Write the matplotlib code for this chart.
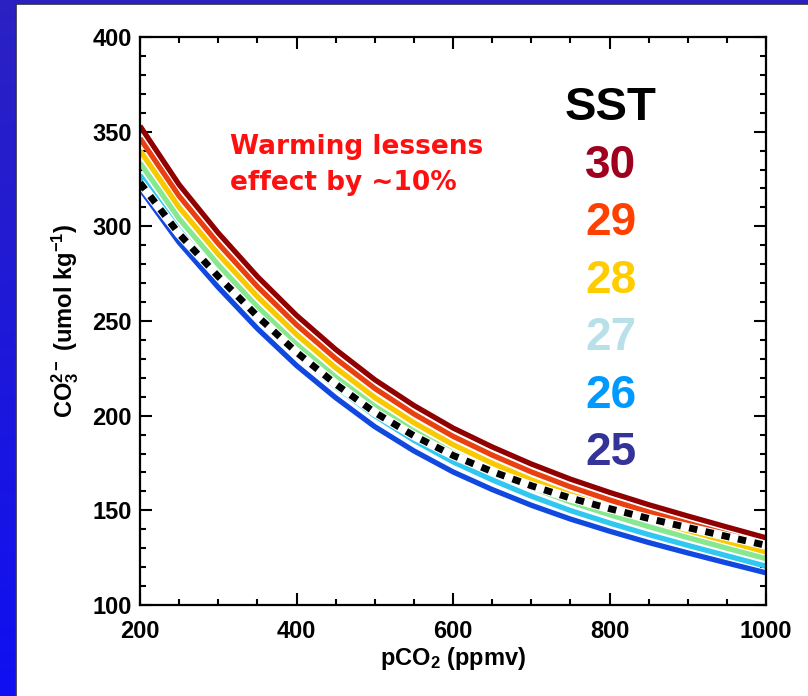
import numpy as np
import matplotlib
matplotlib.use("Agg")
import matplotlib.pyplot as plt
from matplotlib.patches import Rectangle
from matplotlib.ticker import MultipleLocator

plt.rcParams['font.family'] = ['Liberation Sans', 'DejaVu Sans']
plt.rcParams['mathtext.fontset'] = 'custom'
plt.rcParams['mathtext.rm'] = 'Liberation Sans:bold'
plt.rcParams['mathtext.it'] = 'Liberation Sans:bold:italic'
plt.rcParams['mathtext.bf'] = 'Liberation Sans:bold'

# pCO2 (ppmv)
pco2 = [200, 250, 300, 350, 400, 450, 500, 550, 600, 650, 700, 750, 800, 850, 900, 950, 1000]

# CO3 2- (umol/kg) for each SST
sst30 = [353, 322, 296.5, 273.5, 253, 235, 219, 205.4, 193.5, 183.5, 174.5, 166.5, 159.5, 153, 147, 141.2, 135.5]
sst29 = [346.5, 316, 290.9, 268.2, 248, 230.2, 214.4, 200.9, 189.1, 179.2, 170.3, 162.4, 155.5, 149.1, 143.2, 137.5, 131.8]
sst28 = [340, 310, 285.3, 262.9, 242.9, 225.3, 209.6, 196.3, 184.7, 174.9, 166.1, 158.3, 151.5, 145.2, 139.3, 133.6, 128]
sst27 = [333.5, 304, 279.7, 257.5, 237.7, 220.4, 205, 191.9, 180.4, 170.8, 162.1, 154.4, 147.7, 141.4, 135.6, 130, 124.5]
sst26 = [327, 298, 274.1, 252.2, 232.6, 215.4, 200, 187, 175.6, 166.1, 157.5, 149.9, 143.3, 137.2, 131.5, 126, 120.5]
sst25 = [320, 291.5, 267.8, 246, 226.5, 209.5, 194.2, 181.4, 170.3, 161, 152.7, 145.4, 139, 133, 127.5, 122.2, 117]
ref = [323, 296, 273.5, 252.5, 233.5, 216.7, 201.7, 189.4, 179, 170.5, 163, 156.5, 150.9, 145.7, 140.9, 136.2, 131.5]

line_colors = ['#1048e0', '#30c8f0', '#88e890', '#f8c800', '#e84010', '#900000']
series = [sst25, sst26, sst27, sst28, sst29, sst30]

sst_labels = ['30', '29', '28', '27', '26', '25']
label_colors = ['#a00020', '#ff4000', '#ffcc00', '#b8e0e8', '#0099ff', '#333399']

fig = plt.figure(figsize=(8.08, 6.96), dpi=100)

# slide background: blue frame on the left and top
bg = fig.add_axes([0, 0, 1, 1], zorder=-10)
grad = np.linspace(0, 1, 256)[:, None, None]
top_c = np.array([0.17, 0.13, 0.76])
bot_c = np.array([0.06, 0.06, 0.95])
img = top_c * (1 - grad) + bot_c * grad
bg.imshow(img, extent=[0, 1, 0, 1], aspect='auto')
bx, by = 16 / 808, 4 / 696
bg.add_patch(Rectangle((bx, 0), 1 - bx, 1 - by, facecolor='white', edgecolor='none'))
bg.plot([bx, bx, 1], [0, 1 - by, 1 - by], color='#303040', lw=1.2)
bg.set_xlim(0, 1)
bg.set_ylim(0, 1)
bg.axis('off')

ax = fig.add_axes([140 / 808, 1 - 605 / 696, 626 / 808, 568 / 696])
ax.set_facecolor('white')

for vals, c in zip(series, line_colors):
    ax.plot(pco2, vals, color=c, lw=3.8, solid_capstyle='butt', solid_joinstyle='round')
ax.plot(pco2, ref, color='white', lw=6.5, solid_capstyle='butt', solid_joinstyle='round')
ax.plot(pco2, ref, color='black', lw=5, dashes=(1.2, 1.2), dash_capstyle='butt')

ax.set_xlim(200, 1000)
ax.set_ylim(100, 400)
ax.xaxis.set_major_locator(MultipleLocator(200))
ax.xaxis.set_minor_locator(MultipleLocator(50))
ax.yaxis.set_major_locator(MultipleLocator(50))
ax.yaxis.set_minor_locator(MultipleLocator(10))
ax.tick_params(which='both', direction='in', top=True, right=True, width=1.5, color='black')
ax.tick_params(which='major', length=8.6)
ax.tick_params(which='minor', length=4.3)
ax.tick_params(axis='x', pad=11, labelsize=17)
ax.tick_params(axis='y', pad=6, labelsize=17)
for lab in ax.get_xticklabels() + ax.get_yticklabels():
    lab.set_fontweight('bold')
for s in ax.spines.values():
    s.set_linewidth(1.6)

ax.set_xlabel('pCO$_2$ (ppmv)', fontsize=17, fontweight='bold', labelpad=1)
ax.set_ylabel('CO$_3^{2-}$ (umol kg$^{-1}$)', fontsize=17, fontweight='bold', labelpad=8)

ax.text(0.1438, 0.774, 'Warming lessens\neffect by ~10%', transform=ax.transAxes,
        color='#ff1010', fontsize=19, fontweight='bold', family='DejaVu Sans',
        ha='left', va='center', linespacing=1.5)

ax.text(0.752, 0.875, 'SST', transform=ax.transAxes, ha='center', va='center',
        fontsize=34, fontweight='bold', color='black')
for i, (t, c) in enumerate(zip(sst_labels, label_colors)):
    ax.text(0.752, 0.773 - i * 0.1012, t, transform=ax.transAxes, ha='center',
            va='center', fontsize=33, fontweight='bold', color=c)

fig.savefig('out.png', dpi=100)
